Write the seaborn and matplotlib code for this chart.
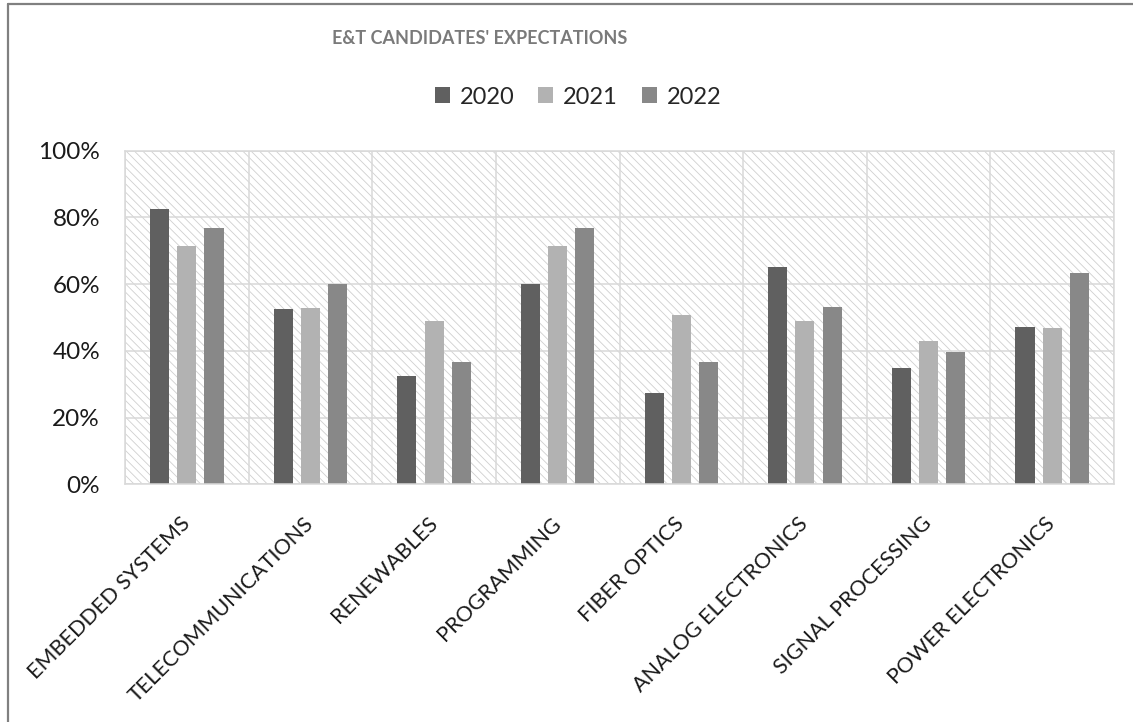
import matplotlib
matplotlib.use("Agg")
import matplotlib.pyplot as plt
import matplotlib.ticker as mticker
from matplotlib.lines import Line2D
from matplotlib.patches import Rectangle, Patch
import numpy as np
import pandas as pd
import seaborn as sns

categories = ["EMBEDDED SYSTEMS", "TELECOMMUNICATIONS", "RENEWABLES", "PROGRAMMING",
              "FIBER OPTICS", "ANALOG ELECTRONICS", "SIGNAL PROCESSING", "POWER ELECTRONICS"]
years = ["2020", "2021", "2022"]
vals_2020 = [82.6, 52.5, 32.5, 60.1, 27.3, 65.0, 34.9, 47.3]
vals_2021 = [71.5, 52.9, 49.0, 71.5, 50.8, 49.0, 42.9, 47.0]
vals_2022 = [76.7, 60.1, 36.7, 76.7, 36.7, 53.2, 39.8, 63.2]
colors = ["#606060", "#b2b2b2", "#888888"]

df = pd.DataFrame({
    "category": categories * 3,
    "year": [y for y in years for _ in categories],
    "value": vals_2020 + vals_2021 + vals_2022,
})

sns.set_style("white")
plt.rcParams["font.family"] = ["Lato", "DejaVu Sans"]
plt.rcParams["hatch.linewidth"] = 0.6

fig = plt.figure(figsize=(11.33, 7.22), dpi=100)
ax = fig.add_axes([125 / 1133, 1 - 484.3 / 722, (1114 - 125) / 1133, (484.3 - 150.7) / 722])

# hatched plot background
ax.add_patch(Rectangle((0, 0), 1, 1, transform=ax.transAxes, facecolor="white",
                       edgecolor="#cfcfcf", hatch="\\\\\\\\", lw=0, zorder=0.1))

sns.barplot(data=df, x="category", y="value", hue="year", hue_order=years,
            palette=colors, width=0.66, gap=0.3, linewidth=0, saturation=1,
            legend=False, ax=ax, zorder=2)

ax.set_ylim(0, 100)
ax.set_xlim(-0.5, len(categories) - 0.5)
ax.yaxis.set_major_locator(mticker.MultipleLocator(20))
ax.yaxis.set_major_formatter(mticker.FuncFormatter(lambda v, p: f"{v:.0f}%"))
ax.set_xticks(np.arange(-0.5, len(categories)), minor=True)
ax.grid(axis="y", which="major", color="#d9d9d9", lw=1.1, zorder=0.5)
ax.grid(axis="x", which="minor", color="#d9d9d9", lw=1.1, zorder=0.5)
ax.grid(axis="x", which="major", visible=False)
ax.set_axisbelow(True)
ax.tick_params(axis="both", which="both", length=0)
ax.tick_params(axis="y", labelsize=17.5, pad=18, labelcolor="#1a1a1a")
ax.tick_params(axis="x", pad=26)
ax.set_xlabel("")
ax.set_ylabel("")
ax.set_xticks(range(len(categories)))
ax.set_xticklabels(categories, rotation=45, ha="right", va="center",
                   rotation_mode="anchor", fontsize=15.5, color="#1a1a1a")
for s in ax.spines.values():
    s.set_color("#d9d9d9")
    s.set_linewidth(1.1)

fig.text(480 / 1133, 1 - 38 / 722, "E&T CANDIDATES' EXPECTATIONS", ha="center", va="center",
         fontsize=13, fontweight="bold", color="#7a7a7a")

handles = [Patch(facecolor=c, edgecolor="none") for c in colors]
fig.legend(handles, years, loc="center", bbox_to_anchor=(578 / 1133, 1 - 97 / 722), ncol=3,
           frameon=False, fontsize=17, handlelength=0.64, handleheight=0.64,
           handletextpad=0.42, columnspacing=1.0)

# outer chart border (top and left only visible)
fig.add_artist(Line2D([8 / 1133, 1], [1 - 4 / 722, 1 - 4 / 722], transform=fig.transFigure,
                      color="#808080", lw=1.6))
fig.add_artist(Line2D([8 / 1133, 8 / 1133], [0, 1 - 4 / 722], transform=fig.transFigure,
                      color="#808080", lw=1.6))

fig.savefig("out.png", dpi=100)
